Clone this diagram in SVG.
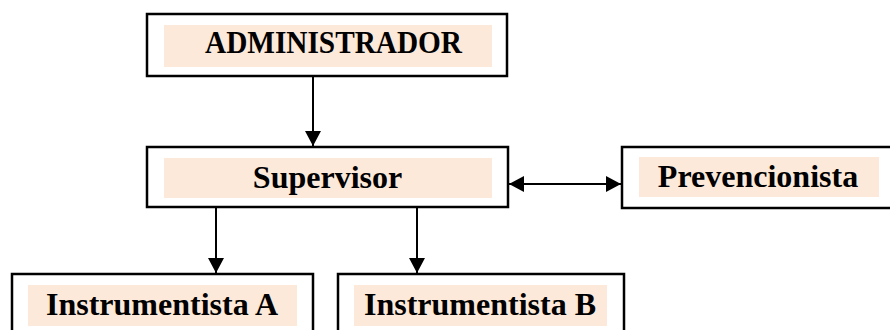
<svg xmlns="http://www.w3.org/2000/svg" width="890" height="330" viewBox="0 0 890 330">
<style>
.box{fill:#ffffff;stroke:#000000;stroke-width:2.5}
.band{fill:#FDE9D9;stroke:none}
.lbl{font-family:"Liberation Serif","Times New Roman",serif;font-weight:bold;font-size:32px;fill:#000000;text-anchor:middle}
.conn{stroke:#000000;stroke-width:2;fill:none}
</style>
<defs>
<marker id="ah" markerUnits="userSpaceOnUse" markerWidth="16" markerHeight="16" viewBox="0 0 16 16" refX="15" refY="8" orient="auto-start-reverse">
<path d="M0,0 L15,8 L0,16 Z" fill="#000000"/>
</marker>
</defs>
<rect width="890" height="330" fill="#ffffff"/>
<g id="connectors">
<line class="conn" x1="313" y1="77" x2="313" y2="146" marker-end="url(#ah)"/>
<line class="conn" x1="509" y1="184" x2="621" y2="184" marker-start="url(#ah)" marker-end="url(#ah)"/>
<line class="conn" x1="216" y1="208" x2="216" y2="273" marker-end="url(#ah)"/>
<line class="conn" x1="417" y1="208" x2="417" y2="273" marker-end="url(#ah)"/>
</g>
<g id="administrador">
<rect class="box" x="147" y="14" width="360" height="62"/>
<rect class="band" x="164" y="25" width="328" height="42"/>
<text class="lbl" x="333.5" y="53" textLength="257" lengthAdjust="spacingAndGlyphs">ADMINISTRADOR</text>
</g>
<g id="supervisor">
<rect class="box" x="147" y="147" width="361" height="60"/>
<rect class="band" x="164" y="158" width="328" height="40"/>
<text class="lbl" x="327.5" y="188">Supervisor</text>
</g>
<g id="prevencionista">
<rect class="box" x="622" y="147" width="280" height="61"/>
<rect class="band" x="639" y="157" width="240" height="40"/>
<text class="lbl" x="758" y="187">Prevencionista</text>
</g>
<g id="instrumentista-a">
<rect class="box" x="12" y="274" width="301" height="70"/>
<rect class="band" x="28" y="285" width="269" height="41"/>
<text class="lbl" x="162" y="315">Instrumentista A</text>
</g>
<g id="instrumentista-b">
<rect class="box" x="338" y="274" width="286" height="70"/>
<rect class="band" x="354" y="285" width="253" height="41"/>
<text class="lbl" x="480" y="315">Instrumentista B</text>
</g>
</svg>
